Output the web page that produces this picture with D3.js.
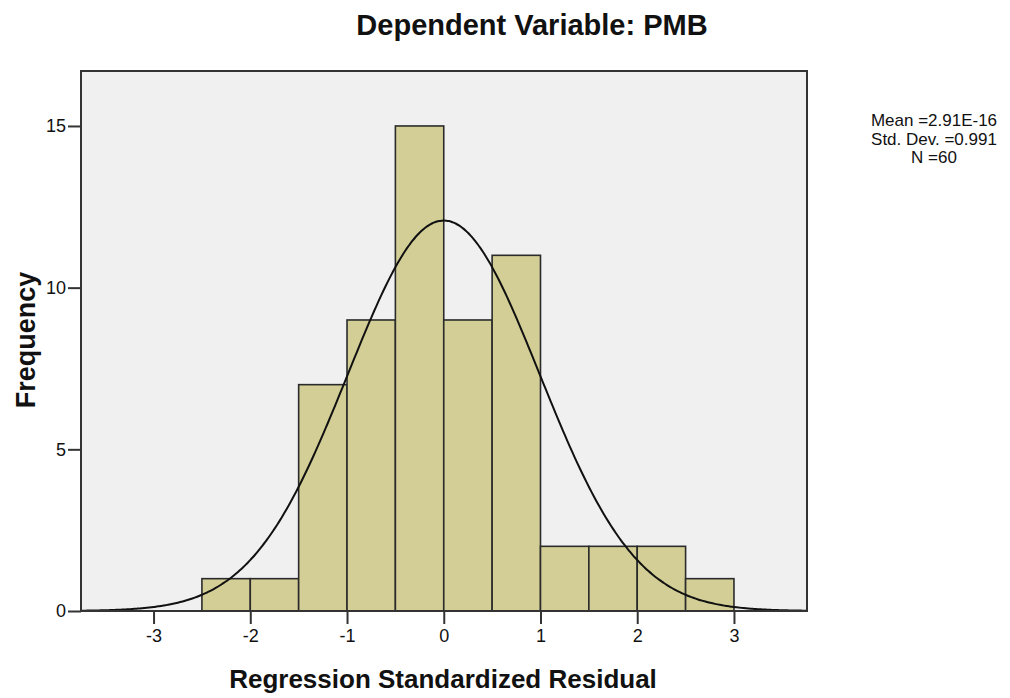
<!DOCTYPE html>
<html><head><meta charset="utf-8">
<script src="https://cdn.jsdelivr.net/npm/d3@7"></script>
<style>body{margin:0;background:#fff;} svg{display:block;} text{font-family:"Liberation Sans",Arial,sans-serif;}</style>
</head><body>
<svg id="c" width="1010" height="698"></svg>
<script>
const binStarts = [-2.5,-2.0,-1.5,-1.0,-0.5,0.0,0.5,1.0,1.5,2.0,2.5];
const counts    = [1,1,7,9,15,9,11,2,2,2,1];
const binWidth = 0.5;
const xTicks = [-3,-2,-1,0,1,2,3];
const yTicks = [0,5,10,15];
const statMean = 2.91e-16, statSD = 0.991, statN = 60;
const statLines = ["Mean =2.91E-16","Std. Dev. =0.991","N =60"];

const svg = d3.select("#c");
const L=81, R=807, T=71, B=611;
const x = d3.scaleLinear().domain([-3.75,3.755]).range([L,R]);
const y = d3.scaleLinear().domain([0,16.7]).range([B,T]);

svg.append("rect").attr("x",L).attr("y",T).attr("width",R-L).attr("height",B-T).attr("fill","#f0f0f0");

const bins = binStarts.map((s,i)=>({x0:s,x1:s+binWidth,n:counts[i]}));
svg.append("g").selectAll("rect").data(bins).join("rect")
  .attr("x",d=>x(d.x0)).attr("width",d=>x(d.x1)-x(d.x0))
  .attr("y",d=>y(d.n)).attr("height",d=>y(0)-y(d.n))
  .attr("fill","#d2ce96").attr("stroke","#2b2b2b").attr("stroke-width",1.6);

// fitted normal curve from the displayed statistics
const pts = d3.range(0,301).map(i=>{
  const xv = -3.75 + i*7.505/300;
  const f = statN*binWidth/(statSD*Math.sqrt(2*Math.PI))*Math.exp(-0.5*Math.pow((xv-statMean)/statSD,2));
  return [xv,f];
});
svg.append("path").datum(pts)
  .attr("d",d3.line().x(d=>x(d[0])).y(d=>y(d[1])).curve(d3.curveBasis))
  .attr("fill","none").attr("stroke","#111").attr("stroke-width",2);

svg.append("rect").attr("x",L).attr("y",T).attr("width",R-L).attr("height",B-T)
  .attr("fill","none").attr("stroke","#333").attr("stroke-width",2);

const xa = svg.append("g").attr("transform",`translate(0,${B})`)
  .call(d3.axisBottom(x).tickValues(xTicks).tickSize(13).tickPadding(5).tickFormat(d=>String(d)));
const ya = svg.append("g").attr("transform",`translate(${L},0)`)
  .call(d3.axisLeft(y).tickValues(yTicks).tickSize(13).tickPadding(2).tickFormat(d=>String(d)));
[xa,ya].forEach(a=>{
  a.select(".domain").remove();
  a.selectAll(".tick line").attr("stroke","#333").attr("stroke-width",2);
  a.selectAll(".tick text").attr("fill","#111").style("font-size","18px").style("font-family","'Liberation Sans',Arial,sans-serif");
});

svg.append("text").attr("x",532).attr("y",35).attr("text-anchor","middle")
  .style("font-size","29px").style("font-weight","bold").attr("fill","#111").text("Dependent Variable: PMB");
svg.append("text").attr("x",443).attr("y",688).attr("text-anchor","middle")
  .style("font-size","26px").style("font-weight","bold").attr("fill","#111").text("Regression Standardized Residual");
svg.append("text").attr("transform","translate(35,340) rotate(-90)").attr("text-anchor","middle")
  .style("font-size","27px").style("font-weight","bold").attr("fill","#111").text("Frequency");

svg.append("g").selectAll("text").data(statLines).join("text")
  .attr("x",934).attr("y",(d,i)=>126+i*18.5).attr("text-anchor","middle")
  .style("font-size","17px").attr("fill","#111").text(d=>d);
</script>
</body></html>
